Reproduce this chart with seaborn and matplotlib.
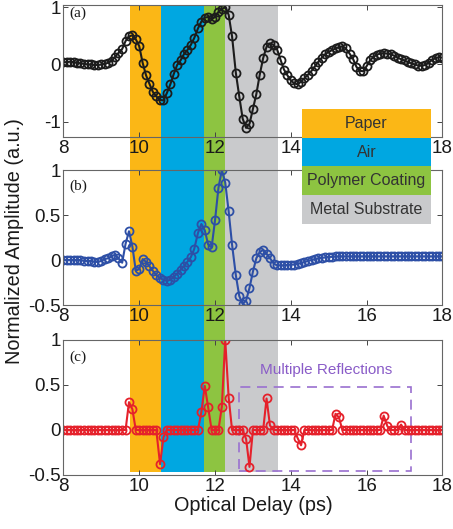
import matplotlib
matplotlib.use('Agg')
import matplotlib.pyplot as plt
import seaborn as sns
from matplotlib.patches import Rectangle
from matplotlib.transforms import blended_transform_factory

# sample times (ps), 11 samples per ps
delay = [
    8.00, 8.09, 8.18, 8.27, 8.36, 8.45, 8.55, 8.64, 8.73, 8.82, 8.91,
    9.00, 9.09, 9.18, 9.27, 9.36, 9.45, 9.55, 9.64, 9.73, 9.82, 9.91,
    10.00, 10.09, 10.18, 10.27, 10.36, 10.45, 10.55, 10.64, 10.73, 10.82, 10.91,
    11.00, 11.09, 11.18, 11.27, 11.36, 11.45, 11.55, 11.64, 11.73, 11.82, 11.91,
    12.00, 12.09, 12.18, 12.27, 12.36, 12.45, 12.55, 12.64, 12.73, 12.82, 12.91,
    13.00, 13.09, 13.18, 13.27, 13.36, 13.45, 13.55, 13.64, 13.73, 13.82, 13.91,
    14.00, 14.09, 14.18, 14.27, 14.36, 14.45, 14.55, 14.64, 14.73, 14.82, 14.91,
    15.00, 15.09, 15.18, 15.27, 15.36, 15.45, 15.55, 15.64, 15.73, 15.82, 15.91,
    16.00, 16.09, 16.18, 16.27, 16.36, 16.45, 16.55, 16.64, 16.73, 16.82, 16.91,
    17.00, 17.09, 17.18, 17.27, 17.36, 17.45, 17.55, 17.64, 17.73, 17.82, 17.91,
    18.00,
]

# (a) measured signal
amp_a = [
    0.04, 0.04, 0.05, 0.04, 0.03, 0.02, 0.01, 0.00, 0.00, -0.01, -0.01,
    0.00, 0.01, 0.03, 0.06, 0.13, 0.20, 0.27, 0.41, 0.49, 0.51, 0.44,
    0.32, 0.03, -0.19, -0.34, -0.48, -0.56, -0.62, -0.63, -0.50, -0.35, -0.17,
    -0.01, 0.07, 0.18, 0.25, 0.34, 0.46, 0.63, 0.75, 0.82, 0.83, 0.79,
    0.83, 0.92, 0.97, 1.00, 0.87, 0.49, -0.15, -0.56, -0.95, -1.11, -1.04,
    -0.78, -0.52, -0.18, 0.11, 0.31, 0.37, 0.34, 0.26, 0.08, -0.09, -0.19,
    -0.28, -0.33, -0.35, -0.30, -0.24, -0.18, -0.11, -0.03, 0.05, 0.12, 0.18,
    0.22, 0.25, 0.28, 0.30, 0.32, 0.28, 0.19, 0.10, -0.04, -0.11, -0.12,
    -0.03, 0.07, 0.13, 0.17, 0.19, 0.20, 0.19, 0.18, 0.15, 0.12, 0.09,
    0.07, 0.04, 0.02, 0.00, -0.02, -0.02, -0.01, 0.03, 0.08, 0.11, 0.13,
    0.12,
]

# (b) processed signal
amp_b = [
    0.00, 0.00, 0.00, 0.00, 0.00, 0.00, -0.01, -0.01, -0.01, -0.02, -0.02,
    -0.01, 0.01, 0.02, 0.04, 0.06, 0.02, -0.03, 0.18, 0.32, 0.15, -0.12,
    -0.10, 0.01, -0.02, -0.07, -0.12, -0.17, -0.20, -0.22, -0.23, -0.22, -0.19,
    -0.15, -0.11, -0.07, -0.02, 0.03, 0.12, 0.30, 0.40, 0.33, 0.17, 0.14,
    0.44, 0.80, 1.00, 0.86, 0.54, 0.17, -0.17, -0.40, -0.49, -0.45, -0.31,
    -0.13, 0.02, 0.09, 0.11, 0.07, 0.02, -0.04, -0.06, -0.06, -0.06, -0.055,
    -0.05, -0.05, -0.04, -0.035, -0.02, -0.01, 0.00, 0.01, 0.02, 0.025, 0.03,
    0.035, 0.035, 0.04, 0.04, 0.04, 0.04, 0.04, 0.04, 0.04, 0.04, 0.04,
    0.04, 0.04, 0.04, 0.04, 0.04, 0.04, 0.04, 0.04, 0.04, 0.04, 0.04,
    0.04, 0.04, 0.04, 0.04, 0.04, 0.04, 0.04, 0.04, 0.04, 0.04, 0.04,
    0.04,
]

# (c) impulse response
amp_c = [
    0, 0, 0, 0, 0, 0, 0, 0, 0, 0, 0,
    0, 0, 0, 0, 0, 0, 0, 0, 0.31, 0.23, 0,
    0, 0, 0, 0, 0, 0, -0.38, -0.08, 0, 0, 0,
    0, 0, 0, 0, 0, 0, 0, 0.20, 0.49, 0.25, 0,
    0, 0, 0.26, 1.00, 0.36, 0, 0, 0, 0, -0.10, -0.41,
    0, 0, 0, 0, 0.35, 0.05, 0, 0, 0, 0, 0,
    0, 0, -0.09, -0.17, 0, 0, 0, 0, 0, 0, 0,
    0, 0, 0.18, 0.14, 0, 0, 0, 0, 0, 0, 0,
    0, 0, 0, 0, 0, 0.16, 0.04, 0, 0, 0, 0.06,
    0, 0, 0, 0, 0, 0, 0, 0, 0, 0, 0,
    0,
]

layers = ['Paper', 'Air', 'Polymer Coating', 'Metal Substrate']
layer_edges = [9.77, 10.58, 11.72, 12.27, 13.65]
layer_colors = ['#FBB716', '#00A7E1', '#8DC441', '#C9CACC']

panel_labels = ['(a)', '(b)', '(c)']
xticks = [8, 10, 12, 14, 16, 18]
yticks_a = [-1, 0, 1]
yticks_bc = [-0.5, 0, 0.5, 1]
yticklabels_bc = ['-0.5', '0', '0.5', '1']

sns.set_style('ticks')
plt.rcParams['font.family'] = ['Liberation Sans', 'DejaVu Sans']

fig = plt.figure(figsize=(4.53, 5.29), dpi=100)
L, W = 0.140, 0.8366
ax_a = fig.add_axes([L, 0.741, W, 0.2495])
ax_b = fig.add_axes([L, 0.4234, W, 0.2552])
ax_c = fig.add_axes([L, 0.1021, W, 0.2552])
axes = [ax_a, ax_b, ax_c]

series = [amp_a, amp_b, amp_c]
colors = ['#1c1c1c', '#2D4FA6', '#E5212B']
for ax, amp, col in zip(axes, series, colors):
    sns.lineplot(x=delay, y=amp, ax=ax, color=col, linewidth=1.5,
                 marker='o', markersize=5.8, markerfacecolor='none',
                 markeredgecolor=col, markeredgewidth=1.3)

# layer bands run through all three panels
trans = blended_transform_factory(ax_c.transData, fig.transFigure)
for i in range(len(layers)):
    fig.add_artist(Rectangle((layer_edges[i], 0.1078), layer_edges[i + 1] - layer_edges[i],
                             0.9887 - 0.1078, transform=trans,
                             facecolor=layer_colors[i], lw=0, zorder=-1))

ylims = [(-1.27, 1.04), (-0.5, 1.0), (-0.5, 1.0)]
label_y = [0.935, 0.881, 0.870]
for i, ax in enumerate(axes):
    ax.set_facecolor('none')
    ax.set_xlim(8, 18)
    ax.set_ylim(*ylims[i])
    ax.set_xticks(xticks)
    ax.set_xticklabels([str(t) for t in xticks])
    if i == 0:
        ax.set_yticks(yticks_a)
        ax.set_yticklabels(['-1', '0', '1'])
    else:
        ax.set_yticks(yticks_bc)
        ax.set_yticklabels(yticklabels_bc)
    for s in ax.spines.values():
        s.set_color('#666666')
        s.set_linewidth(0.8)
    ax.tick_params(direction='in', top=True, right=True, length=3.5, width=0.7,
                   color='#444444', labelsize=13.5, pad=2, labelcolor='#1a1a1a')
    ax.text(0.017, label_y[i], panel_labels[i], transform=ax.transAxes,
            family='Liberation Serif', fontsize=11, va='center', color='#1a1a1a')

# multiple reflections box
ax_c.add_patch(Rectangle((12.62, -0.455), 17.18 - 12.62, 0.48 + 0.455, fill=False,
                         ls=(0, (6, 4)), ec='#9A70D0', lw=1.2))
ax_c.text(14.93, 0.67, 'Multiple Reflections', color='#8A5CC8', fontsize=11,
          ha='center', va='center')

ax_c.set_xlabel('Optical Delay (ps)', fontsize=14.3, labelpad=1, color='#1a1a1a')
fig.text(0.031, 0.544, 'Normalized Amplitude (a.u.)', rotation=90, ha='center',
         va='center', fontsize=14.3, color='#1a1a1a')

# legend of layers
lax = fig.add_axes([0.6667, 0.5766, 0.2848, 0.2174])
lax.barh(range(len(layers)), [1] * len(layers), height=1.0, left=0,
         color=layer_colors, lw=0)
lax.set_xlim(0, 1)
lax.set_ylim(len(layers) - 0.5, -0.5)
lax.axis('off')
for i, name in enumerate(layers):
    lax.text(0.5, i, name, ha='center', va='center', fontsize=11.5, color='#333333')

fig.savefig('out.png', dpi=100)
